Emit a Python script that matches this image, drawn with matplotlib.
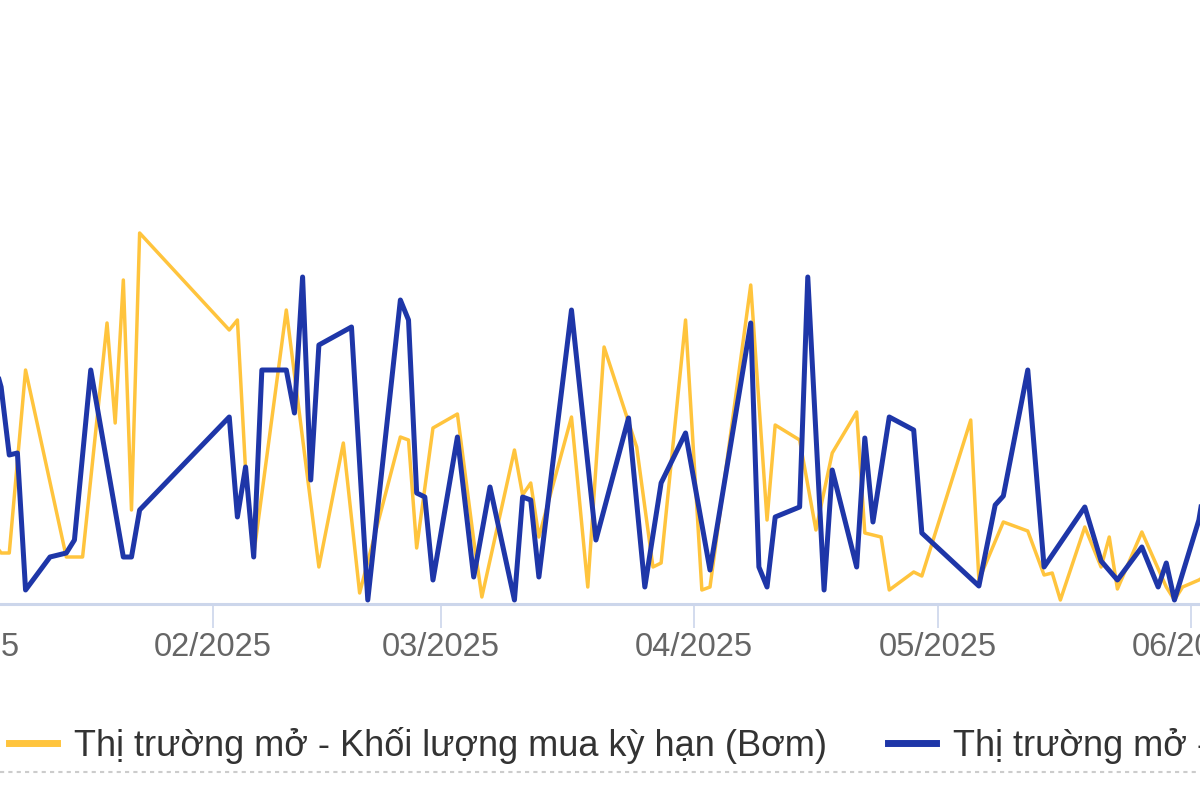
import pandas as pd
import matplotlib
matplotlib.use("Agg")
import matplotlib.pyplot as plt
import matplotlib.dates as mdates
from matplotlib.lines import Line2D

plt.rcParams["font.family"] = ["Liberation Sans", "DejaVu Sans"]

# khối lượng (tỷ đồng)
bom_dates = ["2025-01-03", "2025-01-06", "2025-01-07", "2025-01-09", "2025-01-14", "2025-01-16",
             "2025-01-19", "2025-01-20", "2025-01-21", "2025-01-22", "2025-01-23",
             "2025-02-03", "2025-02-04", "2025-02-05", "2025-02-06", "2025-02-10", "2025-02-14",
             "2025-02-17", "2025-02-19", "2025-02-24", "2025-02-25", "2025-02-26", "2025-02-28",
             "2025-03-03", "2025-03-05", "2025-03-06", "2025-03-10", "2025-03-11", "2025-03-12",
             "2025-03-13", "2025-03-17", "2025-03-19", "2025-03-21", "2025-03-25", "2025-03-27",
             "2025-03-28", "2025-03-31", "2025-04-02", "2025-04-03", "2025-04-08", "2025-04-10",
             "2025-04-11", "2025-04-14", "2025-04-16", "2025-04-18", "2025-04-21", "2025-04-22",
             "2025-04-24", "2025-04-25", "2025-04-28", "2025-04-29", "2025-05-05", "2025-05-06",
             "2025-05-09", "2025-05-12", "2025-05-14", "2025-05-15", "2025-05-16", "2025-05-19",
             "2025-05-21", "2025-05-22", "2025-05-23", "2025-05-26", "2025-05-29", "2025-05-30",
             "2025-05-31", "2025-06-02", "2025-06-03"]
bom_values = [8400, 5100, 5100, 23400, 4700, 4700,
              28100, 18100, 32400, 9400, 37100,
              27400, 28400, 13400, 4900, 29400, 3700,
              16100, 1100, 16700, 16400, 5600, 17600,
              19000, 6400, 700, 15400, 10900, 12100,
              6700, 18700, 1700, 25700, 15700, 3700,
              4100, 28400, 1400, 1700, 31900, 8400,
              17900, 16400, 7400, 15100, 19200, 7100,
              6700, 1400, 3200, 2800, 18400, 2400,
              8200, 7300, 2900, 3100, 400, 7700,
              3700, 6700, 1500, 7200, 1700, 400,
              1700, 2400, 2900]

hut_dates = ["2025-01-03", "2025-01-06", "2025-01-07", "2025-01-08", "2025-01-09", "2025-01-12",
             "2025-01-14", "2025-01-15", "2025-01-17", "2025-01-21", "2025-01-22", "2025-01-23",
             "2025-02-03", "2025-02-04", "2025-02-05", "2025-02-06", "2025-02-07", "2025-02-10",
             "2025-02-11", "2025-02-12", "2025-02-13", "2025-02-14", "2025-02-18", "2025-02-20",
             "2025-02-24", "2025-02-25", "2025-02-26", "2025-02-27", "2025-02-28",
             "2025-03-03", "2025-03-05", "2025-03-07", "2025-03-10", "2025-03-11", "2025-03-12",
             "2025-03-13", "2025-03-17", "2025-03-20", "2025-03-24", "2025-03-26", "2025-03-28",
             "2025-03-31", "2025-04-03", "2025-04-08", "2025-04-09", "2025-04-10", "2025-04-11",
             "2025-04-14", "2025-04-15", "2025-04-17", "2025-04-18", "2025-04-21", "2025-04-22",
             "2025-04-23", "2025-04-25", "2025-04-28", "2025-04-29", "2025-05-06", "2025-05-08",
             "2025-05-09", "2025-05-12", "2025-05-14", "2025-05-19", "2025-05-21", "2025-05-23",
             "2025-05-26", "2025-05-28", "2025-05-29", "2025-05-30", "2025-06-02", "2025-06-03"]
hut_values = [30400, 21700, 14900, 15100, 1400, 4700,
              5100, 6400, 23400, 4700, 4700, 9400,
              18700, 8700, 13700, 4700, 23400, 23400,
              19100, 32700, 12400, 25900, 27700, 400,
              30400, 28400, 11100, 10700, 2400,
              16700, 2700, 11700, 400, 10700, 10400,
              2700, 29400, 6400, 18600, 1700, 12100,
              17100, 3400, 28100, 3700, 1700, 8700,
              9700, 32700, 1400, 13400, 3700, 16600,
              8200, 18700, 17400, 7100, 1800, 9900,
              10800, 23400, 3700, 9700, 4300, 2400,
              5700, 1700, 4100, 400, 8400, 13400]

bom_label = "Thị trường mở - Khối lượng mua kỳ hạn (Bơm)"
hut_label = "Thị trường mở - Khối lượng đáo hạn (Hút)"

yellow = "#FFC43D"
blue = "#1E36A8"

fig = plt.figure(figsize=(12, 8), dpi=100, facecolor="white")
# khung ảnh bị cắt hai bên nên trục rộng hơn hình
ax = fig.add_axes([-0.05, 0.245, 1.1, 0.755])

ax.plot(pd.to_datetime(bom_dates), bom_values, color=yellow, lw=2.5, solid_joinstyle="round")
ax.plot(pd.to_datetime(hut_dates), hut_values, color=blue, lw=3.6, solid_joinstyle="round")

ax.set_xlim(pd.Timestamp("2024-12-29 12:00"), pd.Timestamp("2025-06-09 12:00"))
ax.set_ylim(0, 60400)

ax.xaxis.set_major_locator(mdates.MonthLocator())
ax.xaxis.set_major_formatter(mdates.DateFormatter("%m/%Y"))
ax.tick_params(axis="x", length=17, width=1.2, color="#ccd6eb",
               labelsize=23.5, labelcolor="#666666", pad=3.5)
ax.tick_params(axis="y", left=False, labelleft=False)

for side in ["top", "right", "left"]:
    ax.spines[side].set_visible(False)
ax.spines["bottom"].set_color("#ccd6eb")
ax.spines["bottom"].set_linewidth(2.2)

handles = [Line2D([], [], color=yellow, lw=5), Line2D([], [], color=blue, lw=5)]
fig.legend(handles, [bom_label, hut_label], loc="center left",
           bbox_to_anchor=(0.0075, 1 - 745 / 800), ncol=2, frameon=False,
           fontsize=26, handlelength=1.33, handletextpad=0.47, columnspacing=1.69,
           borderpad=0, borderaxespad=0, labelcolor="#333333")

fig.add_artist(Line2D([0, 1], [1 - 772 / 800, 1 - 772 / 800], transform=fig.transFigure,
                      color="#cccccc", lw=1.5, linestyle=(0, (2, 2))))

fig.savefig("out.png", dpi=100)
